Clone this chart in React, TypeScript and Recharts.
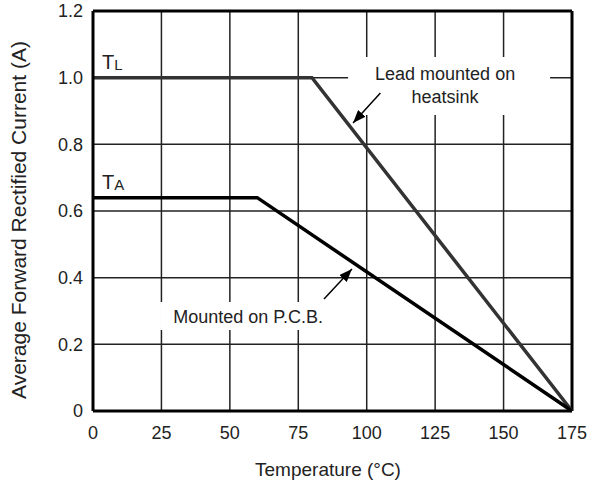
import {
  LineChart,
  Line,
  XAxis,
  YAxis,
  CartesianGrid,
  ReferenceLine,
  ReferenceArea,
  ReferenceDot,
} from "recharts";

const tempTicks = [0, 25, 50, 75, 100, 125, 150, 175];
const currentTicks = [0, 0.2, 0.4, 0.6, 0.8, 1.0, 1.2];

// derating curves
const leadTemps = [0, 80, 175];
const leadCurrents = [1.0, 1.0, 0];
const pcbTemps = [0, 60, 175];
const pcbCurrents = [0.64, 0.64, 0];

// annotation arrows (start -> tip), in chart units
const leadArrowTemps = [105, 95];
const leadArrowCurrents = [0.954, 0.864];
const pcbArrowTemps = [84.4, 94.6];
const pcbArrowCurrents = [0.336, 0.426];

const leadData = leadTemps.map((t, i) => ({ temp: t, current: leadCurrents[i] }));
const pcbData = pcbTemps.map((t, i) => ({ temp: t, current: pcbCurrents[i] }));

const leadArrow = leadArrowTemps.map((t, i) => ({ x: t, y: leadArrowCurrents[i] }));
const pcbArrow = pcbArrowTemps.map((t, i) => ({ x: t, y: pcbArrowCurrents[i] }));

const textColor = "#222";

const subLabel = (sub: string) => (props: any) => {
  const vb = props.viewBox || {};
  return (
    <text x={vb.x + 9} y={vb.y - 9} fill={textColor} fontSize={20}>
      T
      <tspan fontSize={15} dy={1}>
        {sub}
      </tspan>
    </text>
  );
};

const App = () => {
  return (
    <div
      style={{
        position: "absolute",
        left: 0,
        top: 0,
        width: 591,
        height: 486,
        background: "#fff",
        fontFamily: "'Liberation Sans', Arial, sans-serif",
      }}
    >
      <svg width={0} height={0} style={{ position: "absolute" }}>
        <defs>
          <marker
            id="arrowHead"
            markerUnits="userSpaceOnUse"
            markerWidth={14}
            markerHeight={10}
            refX={13}
            refY={5}
            orient="auto"
          >
            <path d="M0,0 L13,5 L0,10 z" fill="#000" />
          </marker>
        </defs>
      </svg>
      <LineChart
        width={591}
        height={486}
        margin={{ top: 11, right: 19, bottom: 0, left: 0 }}
      >
        <CartesianGrid stroke="#222" strokeWidth={1.5} />
        <XAxis
          dataKey="temp"
          type="number"
          domain={[0, 175]}
          ticks={tempTicks}
          height={75}
          tickLine={false}
          tickSize={0}
          tickMargin={15}
          axisLine={{ stroke: "#000", strokeWidth: 3 }}
          tick={{ fill: textColor, fontSize: 18 }}
          label={{
            content: (props: any) => {
              const vb = props.viewBox || {};
              return (
                <text
                  x={328}
                  y={vb.y + 65}
                  textAnchor="middle"
                  fill={textColor}
                  fontSize={19}
                >
                  Temperature (°C)
                </text>
              );
            },
          }}
        />
        <YAxis
          type="number"
          domain={[0, 1.2]}
          ticks={currentTicks}
          width={93}
          tickLine={false}
          tickSize={0}
          tickMargin={10}
          axisLine={{ stroke: "#000", strokeWidth: 3 }}
          tick={{ fill: textColor, fontSize: 18 }}
          tickFormatter={(v: number) => (v === 0 ? "0" : v.toFixed(1))}
          label={{
            content: () => (
              <text
                x={18}
                y={220}
                transform="rotate(-90 18 220)"
                textAnchor="middle"
                dominantBaseline="central"
                fill={textColor}
                fontSize={21}
              >
                Average Forward Rectified Current (A)
              </text>
            ),
          }}
        />
        <ReferenceLine y={1.2} stroke="#000" strokeWidth={3} />
        <ReferenceLine x={175} stroke="#000" strokeWidth={3} />

        <ReferenceArea
          x1={93.2}
          x2={167}
          y1={0.888}
          y2={1.062}
          fill="#fff"
          fillOpacity={1}
          stroke="none"
          label={{
            content: (props: any) => {
              const vb = props.viewBox || {};
              return (
                <g fill={textColor} fontSize={18}>
                  <text x={vb.x + 97} y={vb.y + 23} textAnchor="middle">
                    Lead mounted on
                  </text>
                  <text x={vb.x + 97} y={vb.y + 46} textAnchor="middle">
                    heatsink
                  </text>
                </g>
              );
            },
          }}
        />
        <ReferenceArea
          x1={24.5}
          x2={86.6}
          y1={0.243}
          y2={0.327}
          fill="#fff"
          fillOpacity={1}
          stroke="none"
          label={{
            content: (props: any) => {
              const vb = props.viewBox || {};
              return (
                <text
                  x={vb.x + 88}
                  y={vb.y + 21}
                  textAnchor="middle"
                  fill={textColor}
                  fontSize={18}
                >
                  Mounted on P.C.B.
                </text>
              );
            },
          }}
        />

        <Line
          data={leadData}
          dataKey="current"
          type="linear"
          stroke="#333"
          strokeWidth={3.5}
          dot={false}
          activeDot={false}
          isAnimationActive={false}
        />
        <Line
          data={pcbData}
          dataKey="current"
          type="linear"
          stroke="#000"
          strokeWidth={3.5}
          dot={false}
          activeDot={false}
          isAnimationActive={false}
        />

        <ReferenceLine
          segment={leadArrow}
          stroke="#000"
          strokeWidth={1.5}
          markerEnd="url(#arrowHead)"
        />
        <ReferenceLine
          segment={pcbArrow}
          stroke="#000"
          strokeWidth={1.5}
          markerEnd="url(#arrowHead)"
        />

        <ReferenceDot
          x={0}
          y={1.0}
          r={0}
          fill="none"
          stroke="none"
          label={{ content: subLabel("L") }}
        />
        <ReferenceDot
          x={0}
          y={0.64}
          r={0}
          fill="none"
          stroke="none"
          label={{ content: subLabel("A") }}
        />
      </LineChart>
    </div>
  );
};

export default App;
